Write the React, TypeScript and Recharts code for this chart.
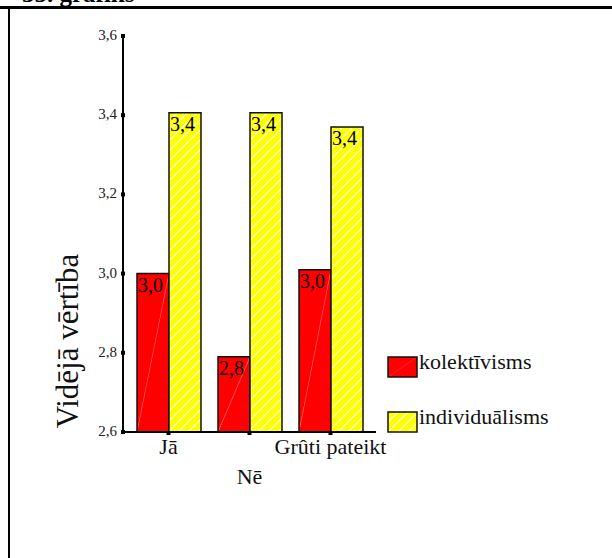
import {
  BarChart,
  Bar,
  XAxis,
  YAxis,
  Legend,
  LabelList,
} from 'recharts';

const categories = ['Jā', 'Nē', 'Grûti pateikt'];
const kolektivisms = [3.0, 2.79, 3.01];
const individualisms = [3.406, 3.406, 3.37];
const yTicks = [2.6, 2.8, 3.0, 3.2, 3.4, 3.6];
const seriesNames = ['kolektīvisms', 'individuālisms'];

const data = categories.map((name, i) => ({
  name,
  kolektivisms: kolektivisms[i],
  individualisms: individualisms[i],
}));

const FONT = '"Liberation Serif", "DejaVu Serif", serif';
const SWATCH: Record<string, string> = {
  'kolektīvisms': 'url(#redFill)',
  'individuālisms': 'url(#yellowFill)',
};

const fmt = (v: number) => v.toFixed(1).replace('.', ',');

function YTick({ x, y, payload }: any) {
  return (
    <g>
      <rect x={x - 2} y={y - 2} width={4} height={4} fill="#000" />
      <text x={x - 6} y={y + 4} textAnchor="end" fontSize={15} fill="#222" fontFamily={FONT}>
        {fmt(payload.value)}
      </text>
    </g>
  );
}

function XTick({ x, y, payload, index }: any) {
  const dy = index === 1 ? 52 : 22;
  return (
    <g>
      <rect x={x - 2} y={y - 1} width={4} height={4} fill="#000" />
      <text x={x} y={y + dy} textAnchor="middle" fontSize={22} fill="#111" fontFamily={FONT}>
        {payload.value}
      </text>
    </g>
  );
}

function BarLabel({ x, y, value }: any) {
  return (
    <text x={x + 1} y={y + 18} fontSize={20} fill="#000" fontFamily={FONT}>
      {fmt(value)}
    </text>
  );
}

function LegendBox() {
  return (
    <svg width={220} height={90} style={{ overflow: 'visible' }}>
      {seriesNames.map((name, i) => (
        <g key={name} transform={`translate(0, ${i * 55})`}>
          <rect x={2} y={8} width={29} height={20} fill={SWATCH[name]} stroke="#111" strokeWidth={1.5} />
          <text x={33} y={20} fontSize={22} fill="#111" fontFamily={FONT}>
            {name}
          </text>
        </g>
      ))}
    </svg>
  );
}

export default function App() {
  return (
    <div style={{ position: 'absolute', left: 0, top: 0, width: 612, height: 558, background: '#fff', overflow: 'hidden' }}>
      <div
        style={{
          position: 'absolute',
          left: 22,
          top: -18,
          fontFamily: FONT,
          fontWeight: 'bold',
          fontSize: 25,
          lineHeight: '24px',
          color: '#000',
        }}
      >
        35. grafiks
      </div>
      <div style={{ position: 'absolute', left: 0, top: 6, width: 612, height: 3, background: '#000' }} />
      <div style={{ position: 'absolute', left: 8, top: 6, width: 2, height: 552, background: '#000' }} />
      <div style={{ position: 'absolute', left: 0, top: 0 }}>
        <BarChart
          width={612}
          height={558}
          data={data}
          margin={{ top: 36, right: 236, bottom: 66, left: 63 }}
          barCategoryGap={9}
          barGap={0}
        >
          <defs>
            <pattern id="yellowFill" patternUnits="userSpaceOnUse" width={10} height={10}>
              <rect width={10} height={10} fill="#ffff00" />
              <line x1={-1} y1={11} x2={11} y2={-1} stroke="#fff" strokeWidth={1.2} opacity={0.9} />
            </pattern>
            <pattern id="redFill" patternUnits="objectBoundingBox" patternContentUnits="objectBoundingBox" width={1} height={1}>
              <rect width={1} height={1} fill="#ff0000" />
              <line x1={0} y1={1} x2={1} y2={0} stroke="#ff9a9a" strokeWidth={0.01} />
            </pattern>
          </defs>
          <XAxis
            dataKey="name"
            height={60}
            padding={{ left: 5, right: 5 }}
            tick={<XTick />}
            tickLine={false}
            tickSize={0}
            tickMargin={0}
            axisLine={{ stroke: '#000', strokeWidth: 2 }}
            interval={0}
          />
          <XAxis xAxisId="top" orientation="top" dataKey="name" height={0} tick={false} tickLine={false} axisLine={{ stroke: '#000', strokeWidth: 2 }} />
          <YAxis
            domain={[2.6, 3.6]}
            ticks={yTicks}
            width={60}
            tick={<YTick />}
            tickLine={false}
            tickSize={0}
            tickMargin={0}
            axisLine={{ stroke: '#000', strokeWidth: 2 }}
            allowDataOverflow
            label={() => (
              <text
                transform="translate(78, 341) rotate(-90)"
                textAnchor="middle"
                fontSize={31}
                fill="#111"
                fontFamily={FONT}
              >
                Vidējā vērtība
              </text>
            )}
          />
          <YAxis yAxisId="right" orientation="right" domain={[2.6, 3.6]} width={0} tick={false} tickLine={false} axisLine={{ stroke: '#000', strokeWidth: 2 }} />
          <Legend
            layout="vertical"
            align="center"
            verticalAlign="middle"
            content={<LegendBox />}
            wrapperStyle={{ position: 'absolute', left: 386, top: 349, width: 220 }}
          />
          <Bar dataKey="kolektivisms" name={seriesNames[0]} fill="url(#redFill)" stroke="#111" strokeWidth={1.5} isAnimationActive={false}>
            <LabelList dataKey="kolektivisms" content={<BarLabel />} />
          </Bar>
          <Bar dataKey="individualisms" name={seriesNames[1]} fill="url(#yellowFill)" stroke="#111" strokeWidth={1.5} isAnimationActive={false}>
            <LabelList dataKey="individualisms" content={<BarLabel />} />
          </Bar>
        </BarChart>
      </div>
    </div>
  );
}
